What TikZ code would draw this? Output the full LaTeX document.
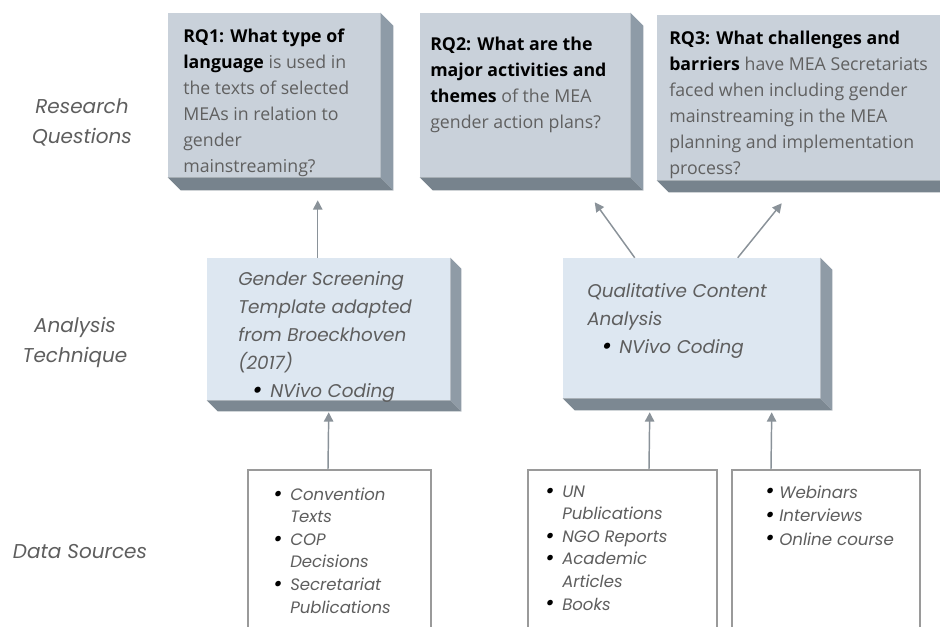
\documentclass[tikz,border=0pt]{standalone}
\usepackage{fontspec}
\setmainfont{Open Sans}
\newfontfamily\popf{Poppins}
\usetikzlibrary{calc,arrows.meta,fit}
\definecolor{rqfront}{HTML}{C9D1DA}
\definecolor{rqside}{HTML}{8E9BA7}
\definecolor{rqbottom}{HTML}{77838D}
\definecolor{anfront}{HTML}{DDE7F1}
\definecolor{anside}{HTML}{8F9BA6}
\definecolor{anbottom}{HTML}{7C8892}
\definecolor{txtgrey}{HTML}{5E5E5E}
\definecolor{rqgrey}{HTML}{606060}
\definecolor{arrgrey}{HTML}{8A9299}
\definecolor{boxgrey}{HTML}{9A9A9A}
\newcommand\xbox[4]{%
  \fill[#3] (#1.north east) -- ++(#2,#2) -- ($(#1.south east)+(#2,#2)$) -- (#1.south east) -- cycle;
  \fill[#4] (#1.south west) -- (#1.south east) -- ++(#2,#2) -- ($(#1.south west)+(#2,#2)$) -- cycle;}
\newcommand\bul{\textcolor{black}{\raisebox{-0.1ex}{\scalebox{1.35}{\textbullet}}}}
\tikzset{
  rqface/.style={fill=rqfront, inner sep=0pt},
  anface/.style={fill=anfront, inner sep=0pt},
  dsbox/.style={draw=boxgrey, line width=1.5pt, fill=white, inner sep=0pt},
  rqtext/.style={anchor=base west, inner sep=0pt, align=left, text=rqgrey,
     font=\fontsize{13.3pt}{19.5pt}\selectfont},
  antext/.style={anchor=base west, inner sep=0pt, align=left, text=txtgrey,
     font=\popf\itshape\fontsize{13.8pt}{21pt}\selectfont},
  lbltext/.style={inner sep=0pt, align=center, text=txtgrey,
     font=\popf\itshape\fontsize{15pt}{22.5pt}\selectfont},
  dstext/.style={anchor=base west, inner sep=0pt, align=left, text=txtgrey,
     font=\popf\itshape\fontsize{12.4pt}{16.9pt}\selectfont},
  arr/.style={draw=arrgrey, line width=1.1pt, -{Triangle[length=7pt,width=7pt]}},
}
\begin{document}
\begin{tikzpicture}[x=0.75pt,y=-0.75pt]
\path[use as bounding box, clip] (0,0) rectangle (940,626);
\fill[white] (0,0) rectangle (940,626);

% left labels
\node[lbltext] (lrq) at (82,122) {Research\\Questions};
\node[lbltext] (lan) at (75,342) {Analysis\\Technique};
\node[lbltext] (lds) at (80,552) {Data Sources};

% research question boxes
\node[rqface, fit={(168,13) (380,177)}] (rq1) {};
\xbox{rq1}{13}{rqside}{rqbottom}
\node[rqface, fit={(420,13) (630,177)}] (rq2) {};
\xbox{rq2}{13}{rqside}{rqbottom}
\node[rqface, fit={(657,15) (960,180)}] (rq3) {};
\xbox{rq3}{12}{rqside}{rqbottom}

% (base anchor = baseline of the last line)
\node[rqtext] (rq1t) at (183,172) {\textcolor{black}{\textbf{RQ1: What type of}}\\\textcolor{black}{\textbf{language}} is used in\\the texts of selected\\MEAs in relation to\\gender\\mainstreaming?};
\node[rqtext] (rq2t) at (430,128) {\textcolor{black}{\textbf{RQ2: What are the}}\\\textcolor{black}{\textbf{major activities and}}\\\textcolor{black}{\textbf{themes}} of the MEA\\gender action plans?};
\node[rqtext] (rq3t) at (669,174) {\textcolor{black}{\textbf{RQ3: What challenges and}}\\\textcolor{black}{\textbf{barriers}} have MEA Secretariats\\faced when including gender\\mainstreaming in the MEA\\planning and implementation\\process?};

% analysis boxes
\node[anface, fit={(207,258) (450,400)}] (a1) {};
\xbox{a1}{11}{anside}{anbottom}
\node[anface, fit={(563,258) (820,398)}] (b1) {};
\xbox{b1}{12}{anside}{anbottom}

\node[antext] (a1t) at (238,397) {Gender Screening\\Template adapted\\from Broeckhoven\\(2017)\\\hspace*{10.5pt}\makebox[13.5pt][l]{\bul}NVivo Coding};
\node[antext] (b1t) at (587,353) {Qualitative Content\\Analysis\\\hspace*{11pt}\makebox[13pt][l]{\bul}NVivo Coding};

% data source boxes
\node[dsbox, fit={(248,470) (431,660)}] (d1) {};
\node[dsbox, fit={(528,470) (717,660)}] (d2) {};
\node[dsbox, fit={(732,470) (920,660)}] (d3) {};

\node[dstext] (d1t) at (273,613) {\makebox[12.75pt][l]{\bul}Convention\\\hspace*{12.75pt}Texts\\\makebox[12.75pt][l]{\bul}COP\\\hspace*{12.75pt}Decisions\\\makebox[12.75pt][l]{\bul}Secretariat\\\hspace*{12.75pt}Publications};
\node[dstext] (d2t) at (545,610) {\makebox[12.75pt][l]{\bul}UN\\\hspace*{12.75pt}Publications\\\makebox[12.75pt][l]{\bul}NGO Reports\\\makebox[12.75pt][l]{\bul}Academic\\\hspace*{12.75pt}Articles\\\makebox[12.75pt][l]{\bul}Books};
\node[dstext, font=\popf\itshape\fontsize{12.5pt}{17.6pt}\selectfont] (d3t) at (765,545) {\makebox[10.5pt][l]{\bul}Webinars\\\makebox[10.5pt][l]{\bul}Interviews\\\makebox[10.5pt][l]{\bul}Online course};

% connectors
\draw[arr] ($(a1.north west)+(111,0)$) -- ($(rq1.south west)+(150,23)$);
\draw[arr] ($(b1.north west)+(72,0)$) -- ($(rq2.south west)+(175,25)$);
\draw[arr] ($(b1.north west)+(175,0)$) -- ($(rq3.south west)+(125,23)$);
\draw[arr] ($(d1.north west)+(81,0)$) -- ($(a1.south west)+(122,12)$);
\draw[arr] ($(d2.north west)+(122,0)$) -- ($(b1.south west)+(87,14)$);
\draw[arr] ($(d3.north west)+(40,0)$) -- ($(b1.south west)+(209,14)$);
\end{tikzpicture}
\end{document}
